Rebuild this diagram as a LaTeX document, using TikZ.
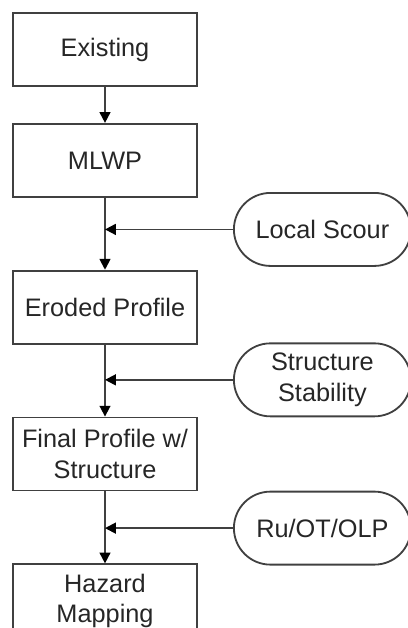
\documentclass[tikz,border=0pt]{standalone}
\usepackage{fontspec}
\setmainfont{Liberation Sans}
\usetikzlibrary{shapes.misc, arrows.meta, positioning}

\begin{document}
\begin{tikzpicture}[
    node distance=1.8cm and 3.2cm,
    stepbox/.style={draw=black!75, line width=1.3pt, rectangle, minimum width=4.6cm, minimum height=1.825cm, align=center, inner sep=0pt, text=black!85, font=\fontsize{18}{21.5}\selectfont},
    term/.style={draw=black!75, line width=1.3pt, rounded rectangle, minimum width=4.425cm, minimum height=1.825cm, align=center, inner sep=0pt, text=black!85, font=\fontsize{18}{21.5}\selectfont},
    arrow/.style={-{Triangle[length=2.7mm, width=2.7mm, black]}, draw=black!75, line width=1.3pt}
]
\useasboundingbox (0,0) rectangle (10.2,-15.7);

% Main chain
\node[stepbox] (exist) at (2.625,-1.2375) {Existing};
\node[stepbox, below=0.9cm of exist] (mlwp) {MLWP};
\node[stepbox, below=of mlwp] (eroded) {Eroded Profile};
\node[stepbox, below=of eroded] (final) {Final Profile w/\\Structure};
\node[stepbox, below=of final] (hazard) {Hazard\\Mapping};

% Junctions on the chain
\path (mlwp.south) -- (eroded.north) coordinate[pos=0.44] (j1);
\path (eroded.south) -- (final.north) coordinate[pos=0.49] (j2);
\path (final.south) -- (hazard.north) coordinate[pos=0.51] (j3);

% Inputs (right)
\node[term, right=of j1] (scour) {Local Scour};
\node[term, right=of j2] (stab) {Structure\\Stability};
\node[term, right=of j3] (runup) {Ru/OT/OLP};

% Arrows
\draw[arrow] (exist) -- (mlwp);
\draw[arrow] (mlwp) -- (eroded);
\draw[arrow] (eroded) -- (final);
\draw[arrow] (final) -- (hazard);

\draw[arrow] (scour.west) -- (j1);
\draw[arrow] (stab.west) -- (j2);
\draw[arrow] (runup.west) -- (j3);

\end{tikzpicture}
\end{document}
